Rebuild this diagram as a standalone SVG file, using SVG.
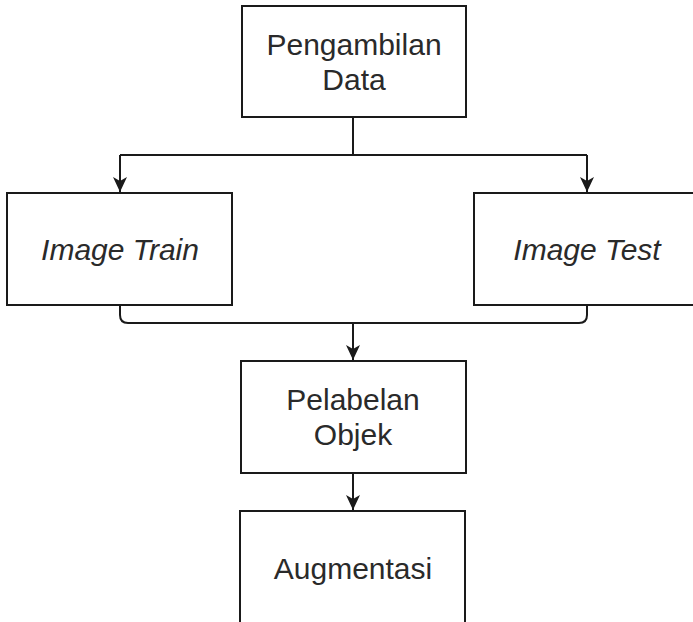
<svg xmlns="http://www.w3.org/2000/svg" width="693" height="622" viewBox="0 0 693 622">
<style>
.box{fill:#fff;stroke:#1a1a1a;stroke-width:2}
.t{font-family:"Liberation Sans",Arial,sans-serif;font-size:30px;fill:#2a2a2a;text-anchor:middle}
.i{font-style:italic}
.c{fill:none;stroke:#1a1a1a;stroke-width:2}
</style>
<defs>
<marker id="ah" markerWidth="16" markerHeight="14" refX="15" refY="7" orient="auto" markerUnits="userSpaceOnUse" viewBox="0 0 16 14">
<path d="M0,0 L15,7 L0,14 L4,7 Z" fill="#1a1a1a"/>
</marker>
</defs>
<g id="connectors">
<path class="c" d="M353,117 V155"/>
<path class="c" d="M120,155 H587"/>
<path class="c" d="M120,155 V192" marker-end="url(#ah)"/>
<path class="c" d="M587,155 V192" marker-end="url(#ah)"/>
<path class="c" d="M120,305 V315 Q120,323 128,323 H579 Q587,323 587,315 V305"/>
<path class="c" d="M353,323 V360" marker-end="url(#ah)"/>
<path class="c" d="M353,473 V510" marker-end="url(#ah)"/>
</g>
<g id="pengambilan">
<rect class="box" x="242" y="6" width="224" height="111"/>
<text class="t" x="354" y="55">Pengambilan</text>
<text class="t" x="354" y="90">Data</text>
</g>
<g id="image-train">
<rect class="box" x="7" y="193" width="225" height="112"/>
<text class="t i" x="120" y="260">Image Train</text>
</g>
<g id="image-test">
<rect class="box" x="474" y="193" width="226" height="112"/>
<text class="t i" x="587" y="260">Image Test</text>
</g>
<g id="pelabelan">
<rect class="box" x="241" y="361" width="225" height="112"/>
<text class="t" x="353" y="410">Pelabelan</text>
<text class="t" x="353" y="445">Objek</text>
</g>
<g id="augmentasi">
<rect class="box" x="240" y="511" width="225" height="120"/>
<text class="t" x="353" y="579">Augmentasi</text>
</g>
</svg>
